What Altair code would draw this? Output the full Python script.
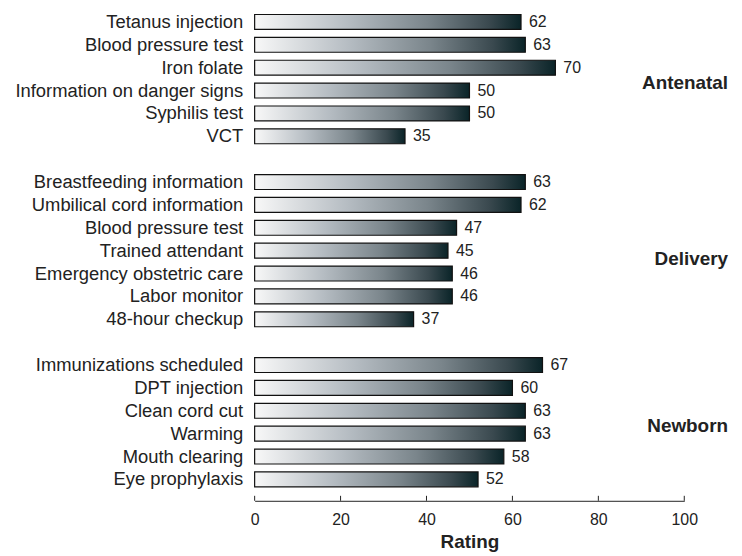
import json
import altair as alt
import pandas as pd

groups = ["Antenatal", "Delivery", "Newborn"]
antenatal_items = ["Tetanus injection", "Blood pressure test", "Iron folate",
                   "Information on danger signs", "Syphilis test", "VCT"]
antenatal_values = [62, 63, 70, 50, 50, 35]
delivery_items = ["Breastfeeding information", "Umbilical cord information",
                  "Blood pressure test", "Trained attendant",
                  "Emergency obstetric care", "Labor monitor", "48-hour checkup"]
delivery_values = [63, 62, 47, 45, 46, 46, 37]
newborn_items = ["Immunizations scheduled", "DPT injection", "Clean cord cut",
                 "Warming", "Mouth clearing", "Eye prophylaxis"]
newborn_values = [67, 60, 63, 63, 58, 52]
x_ticks = [0, 20, 40, 60, 80, 100]

# build rows, with one blank row between groups
rows = []
labels = []
r = 0
for gi, (items, vals) in enumerate([(antenatal_items, antenatal_values),
                                    (delivery_items, delivery_values),
                                    (newborn_items, newborn_values)]):
    if gi > 0:
        labels.append("")
        r += 1
    for it, v in zip(items, vals):
        rows.append({"row": r, "label": it, "value": v, "group": groups[gi]})
        labels.append(it)
        r += 1
n_rows = r
df = pd.DataFrame(rows)

FONT = "Liberation Sans"
W, H = 432, 483
OFF = 10

yscale = alt.Scale(domain=list(range(n_rows)), paddingInner=0.348, paddingOuter=0.174)
xscale = alt.Scale(domain=[0, 100], nice=False)

grad = alt.Gradient(
    gradient="linear",
    stops=[
        alt.GradientStop(color="#f8f8f8", offset=0),
        alt.GradientStop(color="#b5bcc2", offset=0.35),
        alt.GradientStop(color="#7a858b", offset=0.65),
        alt.GradientStop(color="#3a494f", offset=0.88),
        alt.GradientStop(color="#0a2428", offset=1),
    ],
    x1=0, x2=1, y1=0, y2=0,
)

bars = alt.Chart(df).mark_bar(color=grad, stroke="#111", strokeWidth=1.2).encode(
    x=alt.X("value:Q", scale=xscale,
            axis=alt.Axis(values=x_ticks, title="Rating", grid=False, ticks=False,
                          tickSize=0, labelPadding=11, labelFontSize=16,
                          labelFlush=False, labelColor="#222", labelFont=FONT,
                          domainColor="#222", domainWidth=1, offset=OFF,
                          titleFont=FONT, titleFontSize=19,
                          titleFontWeight="bold", titleColor="#222", titlePadding=5)),
    y=alt.Y("row:O", scale=yscale,
            axis=alt.Axis(labelExpr=json.dumps(labels) + "[datum.value]",
                          domain=False, ticks=False, labelPadding=12,
                          labelFontSize=18.5, labelFont=FONT, labelColor="#222",
                          labelLimit=400, title=None)),
)

values_txt = alt.Chart(df).mark_text(align="left", baseline="middle", dx=8,
                                     fontSize=16, font=FONT, color="#222").encode(
    x=alt.X("value:Q", scale=xscale),
    y=alt.Y("row:O", scale=yscale),
    text="value:Q",
)

tick_df = pd.DataFrame({"t": x_ticks})
ticks = alt.Chart(tick_df).mark_rule(color="#222", strokeWidth=1).encode(
    x=alt.X("t:Q", scale=xscale),
    y=alt.value(H + OFF - 5),
    y2=alt.value(H + OFF),
)

group_rows = [3, 10, 18]
group_dy = [-8, 8, -8]
group_layers = []
for g, gr, d in zip(groups, group_rows, group_dy):
    gdf = pd.DataFrame({"group": [g], "row": [gr]})
    group_layers.append(
        alt.Chart(gdf).mark_text(align="right", baseline="middle", dy=d,
                                 fontSize=19, fontWeight="bold", font=FONT,
                                 color="#222").encode(
            x=alt.value(W + 44),
            y=alt.Y("row:O", scale=yscale),
            text="group:N",
        )
    )

chart = alt.layer(bars, values_txt, ticks, *group_layers).properties(
    width=W, height=H,
    autosize="none",
    background="white",
    padding={"left": 248, "top": 1, "right": 50, "bottom": 64},
).configure_view(strokeWidth=0, stroke=None)

chart.save("out.html", embed_options={"renderer": "svg", "actions": False})
